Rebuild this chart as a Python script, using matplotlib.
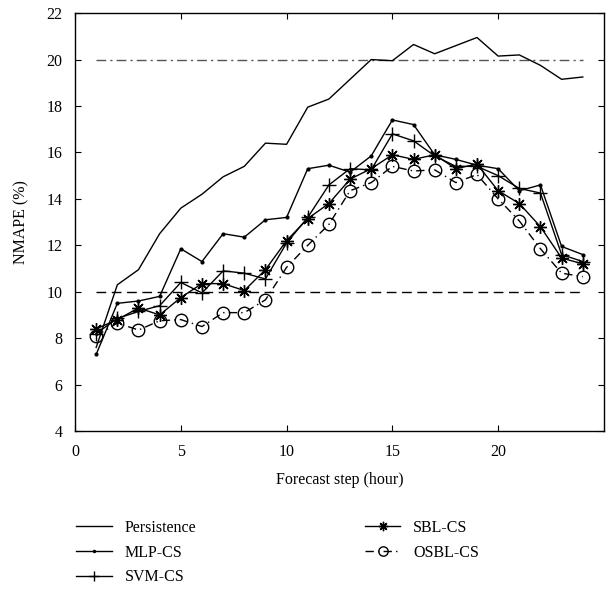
import matplotlib
matplotlib.use("Agg")
import matplotlib.pyplot as plt
import numpy as np

plt.rcParams['font.family'] = ['Liberation Serif', 'DejaVu Serif']

steps = list(range(1, 25))
persistence = [7.6, 10.3, 10.95, 12.5, 13.6, 14.2, 14.95, 15.4, 16.4, 16.35, 17.95, 18.3,
               19.15, 20.0, 19.95, 20.65, 20.25, 20.6, 20.95, 20.15, 20.2, 19.75, 19.15, 19.25]
mlp_cs = [7.3, 9.5, 9.6, 9.8, 11.85, 11.3, 12.5, 12.35, 13.1, 13.2, 15.3, 15.45,
          15.15, 15.85, 17.4, 17.2, 15.9, 15.7, 15.45, 15.3, 14.35, 14.6, 11.95, 11.6]
svm_cs = [8.2, 8.85, 9.15, 9.4, 10.4, 9.95, 10.9, 10.8, 10.55, 12.1, 13.2, 14.6,
          15.3, 15.25, 16.8, 16.5, 15.85, 15.4, 15.4, 15.0, 14.45, 14.25, 11.6, 11.3]
sbl_cs = [8.4, 8.8, 9.3, 9.0, 9.75, 10.35, 10.35, 10.05, 10.95, 12.2, 13.15, 13.8,
          14.85, 15.3, 15.9, 15.7, 15.9, 15.3, 15.5, 14.35, 13.8, 12.8, 11.45, 11.2]
osbl_cs = [8.1, 8.65, 8.35, 8.75, 8.8, 8.5, 9.1, 9.1, 9.65, 11.05, 12.0, 12.9,
           14.35, 14.7, 15.4, 15.2, 15.25, 14.7, 15.05, 14.0, 13.05, 11.85, 10.8, 10.65]
upper_ref = 20
lower_ref = 10

fig = plt.figure(figsize=(6.15, 5.97), dpi=100)
ax = fig.add_axes([0.122, 0.278, 0.860, 0.700])

ax.plot([steps[0], steps[-1]], [upper_ref, upper_ref], color='#555555', lw=1.0,
        linestyle=(0, (7, 3, 1.5, 3)))
ax.plot([steps[0], steps[-1]], [lower_ref, lower_ref], color='black', lw=1.0,
        linestyle=(0, (7, 4)))

ax.plot(steps, persistence, color='black', lw=1.0, label='Persistence')
ax.plot(steps, mlp_cs, color='black', lw=1.0, marker='.', ms=4, label='MLP-CS')
ax.plot(steps, svm_cs, color='black', lw=1.0, marker='+', ms=10, mew=1.0, label='SVM-CS')
ax.plot(steps, sbl_cs, color='black', lw=1.0, marker=(8, 2, 0), ms=9, mew=1.0, label='SBL-CS')
ax.plot(steps, osbl_cs, color='black', lw=1.0, marker='o', ms=9, mfc='none', mew=1.0,
        linestyle=(0, (6, 3, 1, 3)), label='OSBL-CS')

ax.set_xlim(0, 25)
ax.set_ylim(4, 22)
ax.set_xticks([0, 5, 10, 15, 20])
ax.set_yticks(np.arange(4, 23, 2))
ax.tick_params(direction='in', top=True, right=True, labelsize=11.5, length=4)
ax.tick_params(axis='x', pad=9)
ax.tick_params(axis='y', pad=9)
for s in ax.spines.values():
    s.set_linewidth(1.0)

ax.set_xlabel('Forecast step (hour)', fontsize=11.5, labelpad=9)
ax.set_ylabel('NMAPE (%)', fontsize=11.5, labelpad=12)

h, l = ax.get_legend_handles_labels()
leg = fig.legend(h, l, loc='upper left', bbox_to_anchor=(0.114, 0.14), ncol=2,
                 frameon=False, fontsize=11.5, handlelength=2.2, handletextpad=0.8,
                 columnspacing=10.6, labelspacing=0.55, markerscale=0.75, borderaxespad=0)

fig.savefig('out.png', dpi=100)
